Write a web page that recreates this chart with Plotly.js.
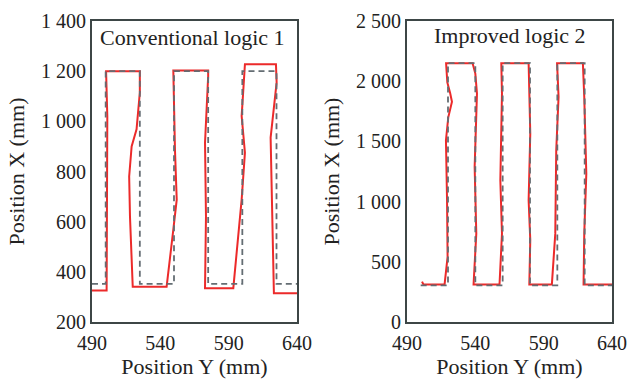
<!DOCTYPE html>
<html>
<head>
<meta charset="utf-8">
<script src="https://cdn.plot.ly/plotly-3.0.1.min.js"></script>
<style>html,body{margin:0;padding:0;background:#fff;}#chart{width:627px;height:379px;}</style>
</head>
<body>
<div id="chart"></div>
<script>
// Left panel: Conventional logic 1
const leftPlanX = [490, 500, 500, 525, 525, 550, 550, 575, 575, 600, 600, 625, 625, 640];
const leftPlanY = [352, 352, 1200, 1200, 352, 352, 1200, 1200, 352, 352, 1200, 1200, 352, 352];
const leftActX = [490, 500.7, 501.2, 500.3, 525, 525, 522.6, 519, 517.2, 517.8, 519.8, 544.6, 549.5, 552, 550.7, 549.5, 575, 575, 572.7, 573.4, 572.7, 593.4, 599.5, 601.9, 599.5, 601.9, 624.6, 625.1, 620.7, 621.4, 623.1, 640];
const leftActY = [326, 326, 1020, 1200, 1200, 1115, 968, 900, 780, 620, 341, 341, 568, 688, 888, 1203, 1203, 1180, 915, 621, 335, 335, 688, 875, 1021, 1228, 1228, 1155, 935, 728, 315, 315];

// Right panel: Improved logic 2
const rightPlanX = [500, 520, 520, 540, 540, 560, 560, 580, 580, 600, 600, 620, 620, 640];
const rightPlanY = [305, 305, 2150, 2150, 305, 305, 2150, 2150, 305, 305, 2150, 2150, 305, 305];
const rightActX = [501, 502, 517.5, 519.7, 519.3, 518.5, 520.2, 521.8, 522.9, 521.6, 519.5, 518.6, 538, 540, 541.2, 539.5, 540.7, 538.7, 557.7, 559.5, 558.3, 559.5, 559, 579, 580.2, 579, 580.2, 579.5, 596, 598.5, 599.2, 600.9, 599.8, 618.7, 619.7, 621.2, 619.7, 619.2, 640];
const rightActY = [335, 312, 312, 540, 1011, 1510, 1700, 1770, 1830, 1900, 1990, 2150, 2150, 2063, 1897, 1287, 734, 312, 312, 734, 1177, 1897, 2150, 2150, 1565, 1011, 680, 312, 312, 734, 1426, 1869, 2150, 2150, 1869, 1232, 734, 312, 312];

const xTicks = [490, 540, 590, 640];
const leftYTicks = [200, 400, 600, 800, 1000, 1200, 1400];
const rightYTicks = [0, 500, 1000, 1500, 2000, 2500];

const RED = '#ec2a2a';
const GRAY = '#646d73';
const FRAME = '#3d4646';
const FONT = '"Liberation Serif", "Times New Roman", serif';

const traces = [
  {x: leftActX, y: leftActY, xaxis: 'x', yaxis: 'y', mode: 'lines', line: {color: RED, width: 2}},
  {x: leftPlanX, y: leftPlanY, xaxis: 'x', yaxis: 'y', mode: 'lines', line: {color: GRAY, width: 1.8, dash: '6px,4px'}},
  {x: rightActX, y: rightActY, xaxis: 'x2', yaxis: 'y2', mode: 'lines', line: {color: RED, width: 2}},
  {x: rightPlanX, y: rightPlanY, xaxis: 'x2', yaxis: 'y2', mode: 'lines', line: {color: GRAY, width: 1.8, dash: '6px,4px'}}
];

const axisBase = {
  showgrid: false, zeroline: false, ticks: '', showline: true, mirror: true,
  linecolor: FRAME, linewidth: 2, tickfont: {family: FONT, size: 20, color: '#222'},
  separatethousands: true, fixedrange: true
};
const titleFont = {family: FONT, size: 22, color: '#222'};

const ml = 40, mr = 10, mt = 10, mb = 50;
const W = 627, H = 379;
const pw = W - ml - mr, ph = H - mt - mb;
const dx = (a, b) => [(a - ml) / pw, (b - ml) / pw];
const dy = (top, bot) => [(H - mb - bot) / ph, (H - mb - top) / ph];

const layout = {
  width: W, height: H,
  margin: {l: ml, r: mr, t: mt, b: mb},
  paper_bgcolor: '#fff', plot_bgcolor: '#fff',
  font: {family: FONT, size: 20, color: '#222'},
  showlegend: false,
  separators: '. ',
  xaxis: Object.assign({}, axisBase, {domain: dx(92, 297), range: [490, 640], tickvals: xTicks, anchor: 'y',
    ticklabelstandoff: 2, title: {text: 'Position Y (mm)', font: titleFont, standoff: 8}}),
  yaxis: Object.assign({}, axisBase, {domain: dy(21, 322), range: [200, 1400], tickvals: leftYTicks, anchor: 'x',
    title: {text: 'Position X (mm)', font: titleFont, standoff: 10}}),
  xaxis2: Object.assign({}, axisBase, {domain: dx(407, 612), range: [490, 640], tickvals: xTicks, anchor: 'y2',
    ticklabelstandoff: 2, title: {text: 'Position Y (mm)', font: titleFont, standoff: 8}}),
  yaxis2: Object.assign({}, axisBase, {domain: dy(21, 322), range: [0, 2500], tickvals: rightYTicks, anchor: 'x2',
    title: {text: 'Position X (mm)', font: titleFont, standoff: 10}}),
  annotations: [
    {text: 'Conventional logic 1', xref: 'x domain', yref: 'y domain', x: 0.49, y: 0.944, showarrow: false,
      xanchor: 'center', yanchor: 'middle', font: titleFont},
    {text: 'Improved logic 2', xref: 'x2 domain', yref: 'y2 domain', x: 0.5, y: 0.953, showarrow: false,
      xanchor: 'center', yanchor: 'middle', font: titleFont}
  ]
};

Plotly.newPlot('chart', traces, layout, {displayModeBar: false, staticPlot: true});
</script>
</body>
</html>
